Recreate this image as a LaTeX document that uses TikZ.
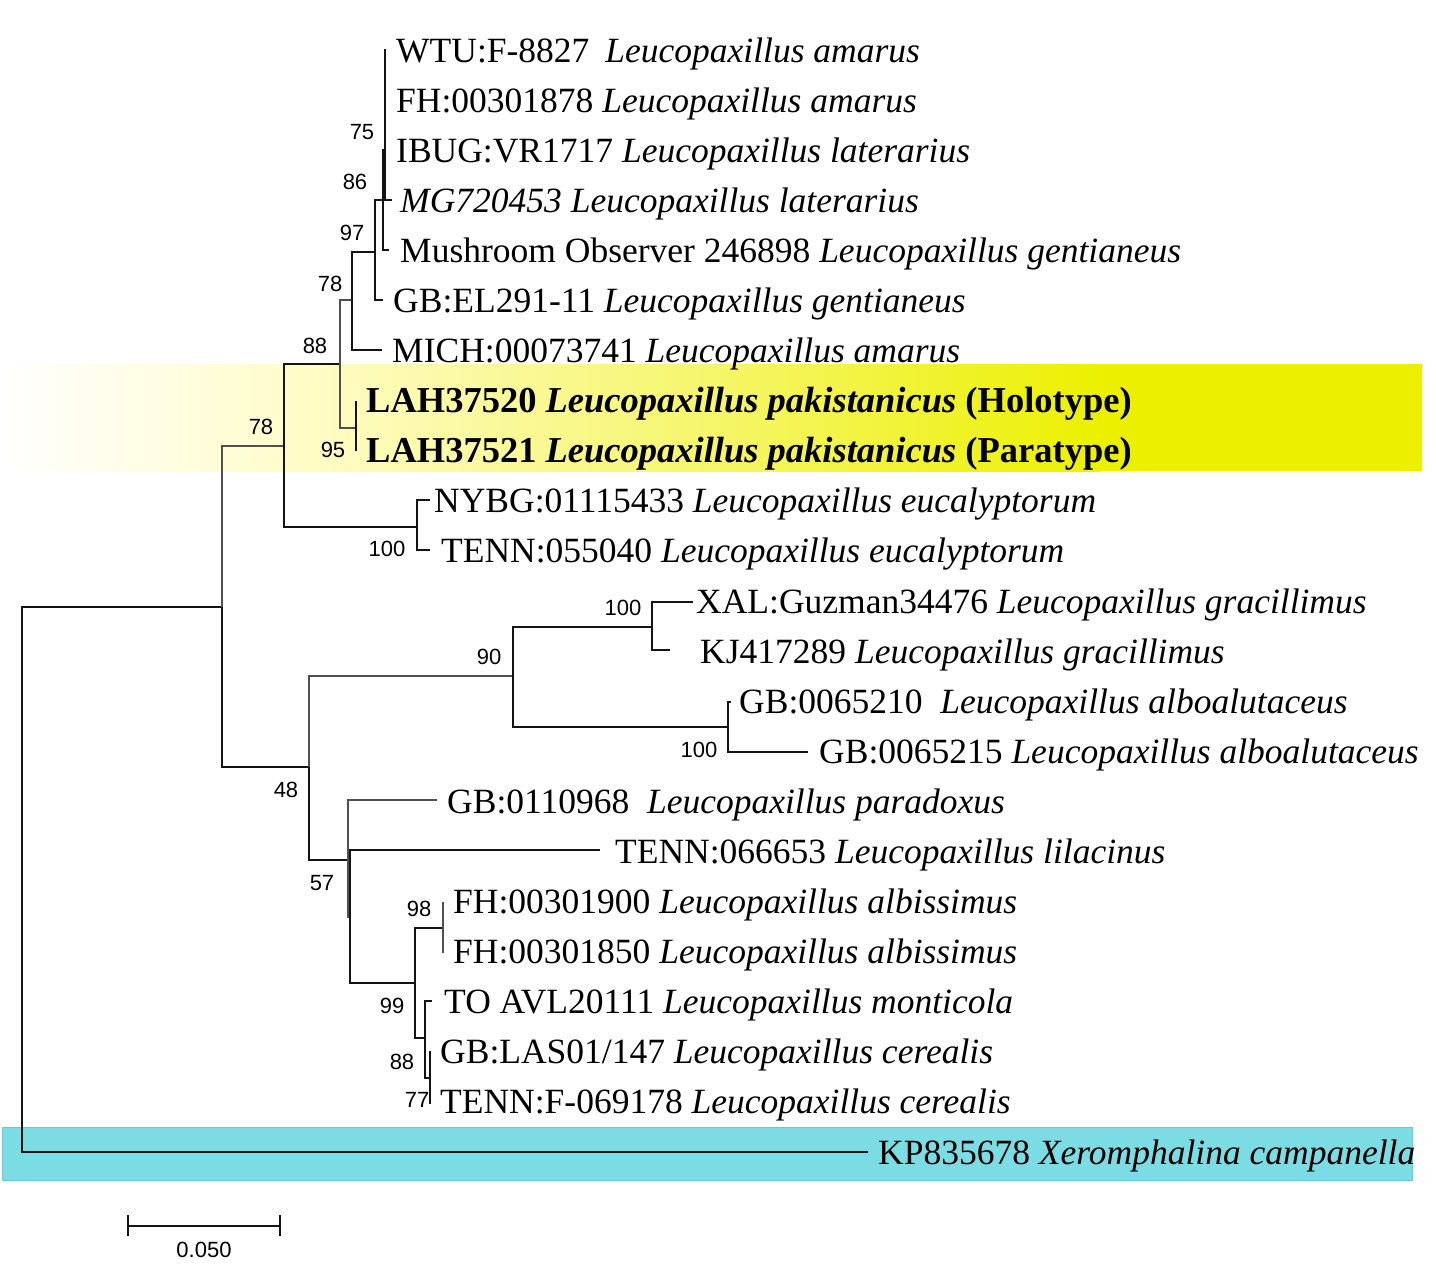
\documentclass[tikz,border=0pt]{standalone}
\usepackage{fontspec}
\setmainfont{Liberation Serif}
\newfontfamily\lsans{Liberation Sans}
\definecolor{lnk}{RGB}{20,20,20}
\definecolor{lng}{RGB}{80,80,80}
\definecolor{ypale}{RGB}{255,252,200}
\definecolor{ymid}{RGB}{246,246,110}
\definecolor{ystrong}{RGB}{236,240,0}
\definecolor{cyanband}{RGB}{124,220,228}
\definecolor{cyanedge}{RGB}{95,205,215}
\tikzset{
  br/.style={line width=2.6pt, draw=lnk},
  brg/.style={line width=2.6pt, draw=lng},
  taxon/.style={anchor=base west, inner sep=0pt, font=\fontsize{35.5}{42}\selectfont},
  taxonb/.style={anchor=base west, inner sep=0pt, font=\fontsize{36.5}{42}\selectfont\bfseries},
  boot/.style={anchor=center, inner sep=0pt, font=\lsans\fontsize{22}{26}\selectfont},
}
\begin{document}
\begin{tikzpicture}[x=1pt,y=-1pt]
\useasboundingbox (0,0) rectangle (1436,1277);
% highlight bands
\shade[left color=white, right color=ypale] (0,364) rectangle (300,471);
\shade[left color=ypale, right color=ymid] (299,364) rectangle (700,471);
\shade[left color=ymid, right color=ystrong] (699,364) rectangle (1100,471);
\fill[ystrong] (1099,364) rectangle (1422,471);
\fill[cyanband, draw=cyanedge, line width=1pt] (2,1127) rectangle (1412,1180);
% internal nodes
\coordinate (root) at (22,880);
\coordinate (nA) at (222,607);
\coordinate (n78b) at (284,446);
\coordinate (n88) at (340,364);
\coordinate (n78a) at (352,300);
\coordinate (n97) at (375,252);
\coordinate (n86) at (383,200);
\coordinate (n75) at (385,150);
\coordinate (n95) at (356,428);
\coordinate (n100e) at (417,527);
\coordinate (n48) at (309,767);
\coordinate (n90) at (513,676);
\coordinate (n100g) at (652,627);
\coordinate (n100a) at (728,727);
\coordinate (n57) at (348,860);
\coordinate (nX) at (350,917);
\coordinate (n99) at (415,983);
\coordinate (n98) at (443,928);
\coordinate (n88b) at (425,1038);
\coordinate (n77) at (430,1078);
% tips
\coordinate (tWTU) at (386,50);
\coordinate (tFH) at (386,100);
\coordinate (tIBUG) at (386,150);
\coordinate (tMG) at (392,200);
\coordinate (tMush) at (389,250);
\coordinate (tGBEL) at (383,300);
\coordinate (tMICH) at (382,350);
\coordinate (tLAH1) at (357,402);
\coordinate (tLAH2) at (357,450);
\coordinate (tNYBG) at (430,500);
\coordinate (tTENN) at (430,550);
\coordinate (tXAL) at (693,602);
\coordinate (tKJ) at (670,650);
\coordinate (tGB10) at (731,702);
\coordinate (tGB15) at (808,752);
\coordinate (tPar) at (437,800);
\coordinate (tLil) at (600,850);
\coordinate (tFH1) at (444,903);
\coordinate (tFH2) at (444,952);
\coordinate (tTO) at (432,1001);
\coordinate (tLAS) at (431,1052);
\coordinate (tTF) at (431,1103);
\coordinate (tKP) at (868,1152);
% branches
\draw[br] (root) |- (nA);
\draw[br] (root) |- (tKP);
\draw[brg] (nA) |- (n78b);
\draw[br] (nA) |- (n48);
\draw[br] (n78b) |- (n88);
\draw[br] (n78b) |- (n100e);
\draw[brg] (n88) |- (n78a);
\draw[brg] (n88) |- (n95);
\draw[br] (n95) |- (tLAH1);
\draw[br] (n95) |- (tLAH2);
\draw[br] (n78a) |- (n97);
\draw[br] (n78a) |- (tMICH);
\draw[br] (n97) |- (n86);
\draw[br] (n97) |- (tGBEL);
\draw[br] (n86) |- (n75);
\draw[br] (n86) |- (tMush);
\draw[br] (n75) |- (tWTU);
\draw[br] (n75) |- (tFH);
\draw[br] (n75) |- (tIBUG);
\draw[br] (n75) |- (tMG);
\draw[br] (n100e) |- (tNYBG);
\draw[br] (n100e) |- (tTENN);
\draw[brg] (n48) |- (n90);
\draw[br] (n48) |- (n57);
\draw[br] (n90) |- (n100g);
\draw[br] (n90) |- (n100a);
\draw[br] (n100g) |- (tXAL);
\draw[br] (n100g) |- (tKJ);
\draw[br] (n100a) |- (tGB10);
\draw[br] (n100a) |- (tGB15);
\draw[brg] (n57) |- (tPar);
\draw[brg] (n57) |- (nX);
\draw[br] (nX) |- (tLil);
\draw[br] (nX) |- (n99);
\draw[br] (n99) |- (n98);
\draw[br] (n99) |- (n88b);
\draw[brg] (n98) |- (tFH1);
\draw[brg] (n98) |- (tFH2);
\draw[br] (n88b) |- (tTO);
\draw[br] (n88b) |- (n77);
\draw[br] (n77) |- (tLAS);
\draw[br] (n77) |- (tTF);
% taxon labels
\node[taxon] (l1) at (396,62) {WTU:F-8827\hspace{0.45em}\textit{Leucopaxillus amarus}};
\node[taxon] (l2) at (396,112) {FH:00301878 \textit{Leucopaxillus amarus}};
\node[taxon] (l3) at (396,162) {IBUG:VR1717 \textit{Leucopaxillus laterarius}};
\node[taxon] (l4) at (400,212) {\textit{MG720453 Leucopaxillus laterarius}};
\node[taxon] (l5) at (400,262) {Mushroom Observer 246898 \textit{Leucopaxillus gentianeus}};
\node[taxon] (l6) at (393,312) {GB:EL291-11 \textit{Leucopaxillus gentianeus}};
\node[taxon] (l7) at (392,362) {MICH:00073741 \textit{Leucopaxillus amarus}};
\node[taxonb] (l8) at (366,412) {LAH37520 \textit{Leucopaxillus pakistanicus} (Holotype)};
\node[taxonb] (l9) at (366,462) {LAH37521 \textit{Leucopaxillus pakistanicus} (Paratype)};
\node[taxon] (l10) at (434,512) {NYBG:01115433 \textit{Leucopaxillus eucalyptorum}};
\node[taxon] (l11) at (441,562) {TENN:055040 \textit{Leucopaxillus eucalyptorum}};
\node[taxon] (l12) at (696,613) {XAL:Guzman34476 \textit{Leucopaxillus gracillimus}};
\node[taxon] (l13) at (700,663) {KJ417289 \textit{Leucopaxillus gracillimus}};
\node[taxon] (l14) at (739,713) {GB:0065210\ \ \textit{Leucopaxillus alboalutaceus}};
\node[taxon] (l15) at (819,763) {GB:0065215 \textit{Leucopaxillus alboalutaceus}};
\node[taxon] (l16) at (447,813) {GB:0110968\ \ \textit{Leucopaxillus paradoxus}};
\node[taxon] (l17) at (615,863) {TENN:066653 \textit{Leucopaxillus lilacinus}};
\node[taxon] (l18) at (453,913) {FH:00301900 \textit{Leucopaxillus albissimus}};
\node[taxon] (l19) at (453,963) {FH:00301850 \textit{Leucopaxillus albissimus}};
\node[taxon] (l20) at (444,1013) {TO AVL20111 \textit{Leucopaxillus monticola}};
\node[taxon] (l21) at (440,1063) {GB:LAS01/147 \textit{Leucopaxillus cerealis}};
\node[taxon] (l22) at (440,1113) {TENN:F-069178 \textit{Leucopaxillus cerealis}};
\node[taxon] (l23) at (878,1164) {KP835678 \textit{Xeromphalina campanella}};
% bootstrap values
\node[boot] (b75) at (362,132) {75};
\node[boot] (b86) at (355,182) {86};
\node[boot] (b97) at (352,233) {97};
\node[boot] (b78a) at (330,284) {78};
\node[boot] (b88) at (315,346) {88};
\node[boot] (b95) at (333,450) {95};
\node[boot] (b78b) at (261,427) {78};
\node[boot] (b100e) at (387,549) {100};
\node[boot] (b100g) at (623,608) {100};
\node[boot] (b90) at (489,657) {90};
\node[boot] (b100a) at (699,750) {100};
\node[boot] (b48) at (286,790) {48};
\node[boot] (b57) at (322,883) {57};
\node[boot] (b98) at (419,909) {98};
\node[boot] (b99) at (392,1006) {99};
\node[boot] (b88b) at (402,1062) {88};
\node[boot] (b77) at (417,1100) {77};
% scale bar
\coordinate (sL) at (128,1226);
\coordinate (sR) at (280,1226);
\draw[br] (sL) -- (sR);
\draw[br] ([yshift=-10pt]sL) -- ([yshift=11pt]sL);
\draw[br] ([yshift=-10pt]sR) -- ([yshift=11pt]sR);
\node[boot] (scl) at (204,1250) {0.050};
\end{tikzpicture}
\end{document}
